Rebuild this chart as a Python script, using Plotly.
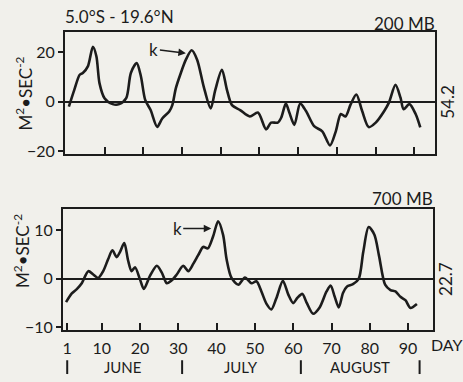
import plotly.graph_objects as go

# ---- data ----
days_200 = [0.8, 2.2, 3.6, 4.4, 5.7, 7.0, 7.9, 8.7, 10.0, 12.1, 13.8, 15.6, 16.8, 18.3, 19.4,
            20.5, 21.9, 23.6, 24.9, 26.7, 27.5, 28.4, 29.7, 31.0, 32.5, 33.9, 35.6, 37.4, 38.6,
            40.3, 41.6, 42.9, 45.0, 47.5, 49.6, 51.7, 53.0, 54.7, 55.6, 56.8, 57.7, 59.0, 60.5,
            62.0, 64.1, 66.2, 68.2, 69.7, 71.0, 72.2, 73.5, 75.0, 76.5, 78.2, 80.0, 82.2, 83.4,
            85.1, 86.4, 87.2, 88.7, 90.3, 91.5]
vals_200 = [-2.0, 4.8, 10.9, 11.6, 14.3, 22.2, 18.4, 7.5, 1.4, -1.0, -1.0, 1.4, 11.6, 15.6, 10.2,
            0.7, -3.4, -10.2, -6.8, -4.0, -1.4, 5.4, 11.6, 17.0, 20.8, 17.0, 6.1, -2.7, 4.8,
            12.9, 4.8, -1.4, -3.4, -6.0, -4.4, -11.2, -8.5, -8.5, -6.5, -0.8, -4.4, -9.4, -0.8,
            -3.8, -9.9, -12.0, -17.7, -12.0, -5.0, -6.0, -1.2, 2.9, -3.8, -10.3, -8.5, -3.8, -0.4,
            6.8, 1.6, -3.1, -1.0, -5.0, -10.4]

days_700 = [0.7, 2.2, 3.5, 4.8, 6.5, 7.8, 9.1, 10.4, 11.7, 12.8, 13.9, 14.8, 15.9, 16.9, 17.8,
            18.7, 20.0, 21.0, 22.6, 24.4, 25.7, 27.0, 28.3, 29.6, 31.3, 32.6, 33.9, 35.2, 36.5,
            37.7, 39.1, 40.4, 41.7, 42.6, 43.9, 45.7, 47.4, 49.1, 50.4, 51.7, 53.0, 54.3, 55.6,
            57.3, 58.7, 60.0, 61.1, 62.4, 63.5, 65.2, 66.9, 68.7, 69.8, 70.8, 71.9, 73.0, 74.0,
            75.6, 77.1, 78.3, 79.7, 81.2, 82.4, 84.0, 85.4, 86.7, 88.0, 89.3, 90.6, 92.3]
vals_700 = [-4.8, -3.0, -2.1, -0.9, 1.6, 0.9, 0.2, 1.6, 4.1, 5.9, 4.5, 5.6, 7.4, 3.8, 1.6,
            2.4, -0.1, -2.1, 0.6, 2.7, 1.3, -0.9, -0.3, 0.9, 2.7, 1.6, 3.1, 4.9, 6.6,
            6.3, 8.8, 11.9, 9.1, 4.1, 0.2, -1.2, 0.3, -0.9, -0.5, -2.6, -5.1, -6.3, -4.0,
            -0.4, -3.2, -5.0, -3.9, -3.1, -4.9, -7.2, -5.9, -2.6, -1.4, -3.6, -5.9, -2.9, -1.6,
            -1.1, 0.0, 5.6, 10.7, 9.1, 4.8, -1.2, -2.3, -2.6, -3.7, -4.4, -6.0, -5.2]

day_ticks = [1, 10, 20, 30, 40, 50, 60, 70, 80, 90]
top_yticks = [-20, 0, 20]
bot_yticks = [-10, 0, 10]
months = ["JUNE", "JULY", "AUGUST"]
month_centers = [15.5, 46.5, 77.5]
month_bounds = [1, 31, 62, 93]
level_top, level_bot = "200 MB", "700 MB"
right_top, right_bot = "54.2", "22.7"
region = "5.0°S - 19.6°N"

W, H = 463, 382
INK = "#1c1c1c"
BG = "#f1f0eb"
FONT = "Lato"

def px(v):
    return v / W

def py(v):
    return 1 - v / H

fig = go.Figure()
fig.add_trace(go.Scatter(x=days_200, y=vals_200, mode="lines", xaxis="x", yaxis="y",
                         line=dict(color=INK, width=2.6, shape="spline", smoothing=0.8),
                         showlegend=False, hoverinfo="skip"))
fig.add_trace(go.Scatter(x=days_700, y=vals_700, mode="lines", xaxis="x2", yaxis="y2",
                         line=dict(color=INK, width=2.6, shape="spline", smoothing=0.8),
                         showlegend=False, hoverinfo="skip"))

axis_common = dict(showgrid=False, showline=True, mirror=True, linecolor=INK, linewidth=2,
                   tickcolor=INK, tickwidth=2, tickfont=dict(family=FONT, size=16, color=INK))

fig.update_layout(
    width=W, height=H, margin=dict(l=0, r=0, t=0, b=0),
    paper_bgcolor=BG, plot_bgcolor=BG,
    font=dict(family=FONT, color=INK),
    xaxis=dict(domain=[px(65), px(435)], range=[-0.2, 95.3], anchor="y",
               tickvals=day_ticks[1:], ticks="inside", ticklen=7, showticklabels=False,
               zeroline=False, **axis_common),
    yaxis=dict(domain=[py(156), py(33)], range=[-21, 28], anchor="x",
               tickvals=top_yticks, ticks="outside", ticklen=5,
               zeroline=True, zerolinecolor=INK, zerolinewidth=1.6, **axis_common),
    xaxis2=dict(domain=[px(63), px(433)], range=[-0.1, 96.5], anchor="y2",
                tickvals=day_ticks, ticktext=[str(d) for d in day_ticks],
                ticks="inside", ticklen=7, ticklabelstandoff=3,
                zeroline=False, **axis_common),
    yaxis2=dict(domain=[py(335), py(212)], range=[-10.5, 14.5], anchor="x2",
                tickvals=bot_yticks, ticks="outside", ticklen=5,
                zeroline=True, zerolinecolor=INK, zerolinewidth=1.6, **axis_common),
)

ann = []
tf = dict(family=FONT, size=17, color=INK)
ann.append(dict(text=region, x=px(63), y=py(17), xref="paper", yref="paper",
                xanchor="left", yanchor="middle", showarrow=False, font=dict(family=FONT, size=17, color=INK)))
ann.append(dict(text=level_top, x=px(437), y=py(24), xref="paper", yref="paper",
                xanchor="right", yanchor="middle", showarrow=False, font=tf))
ann.append(dict(text=level_bot, x=px(435), y=py(202), xref="paper", yref="paper",
                xanchor="right", yanchor="middle", showarrow=False, font=tf))
ann.append(dict(text=right_top, x=px(448), y=0, xref="paper", yref="y",
                xanchor="center", yanchor="middle", textangle=-90, showarrow=False, font=tf))
ann.append(dict(text=right_bot, x=px(446), y=0, xref="paper", yref="y2",
                xanchor="center", yanchor="middle", textangle=-90, showarrow=False, font=tf))
ytitle = "M<sup>2</sup>•SEC<sup>-2</sup>"
ann.append(dict(text=ytitle, x=px(24), y=py(95), xref="paper", yref="paper",
                xanchor="center", yanchor="middle", textangle=-90, showarrow=False, font=tf))
ann.append(dict(text=ytitle, x=px(22), y=py(255), xref="paper", yref="paper",
                xanchor="center", yanchor="middle", textangle=-90, showarrow=False, font=tf))
# k arrows
ann.append(dict(text="k", x=31.0, y=19.6, xref="x", yref="y", ax=-32, ay=-4,
                axref="pixel", ayref="pixel", showarrow=True, arrowhead=2, arrowsize=1,
                arrowwidth=1.5, arrowcolor=INK, font=tf))
ann.append(dict(text="k", x=38.6, y=10.4, xref="x2", yref="y2", ax=-34, ay=0,
                axref="pixel", ayref="pixel", showarrow=True, arrowhead=2, arrowsize=1,
                arrowwidth=1.5, arrowcolor=INK, font=tf))
# DAY label
ann.append(dict(text="DAY", x=px(447), y=py(350), xref="paper", yref="paper",
                xanchor="center", yanchor="middle", showarrow=False,
                font=dict(family=FONT, size=16, color=INK)))
# months
for m, c in zip(months, month_centers):
    ann.append(dict(text=m, x=c, y=py(373), xref="x2", yref="paper",
                    xanchor="center", yanchor="middle", showarrow=False,
                    font=dict(family=FONT, size=15, color=INK)))
fig.update_layout(annotations=ann)

# month boundary bars
for b in month_bounds:
    fig.add_shape(type="line", x0=b, x1=b, xref="x2", y0=py(380), y1=py(366), yref="paper",
                  line=dict(color=INK, width=2))

fig.write_html("out.html")
